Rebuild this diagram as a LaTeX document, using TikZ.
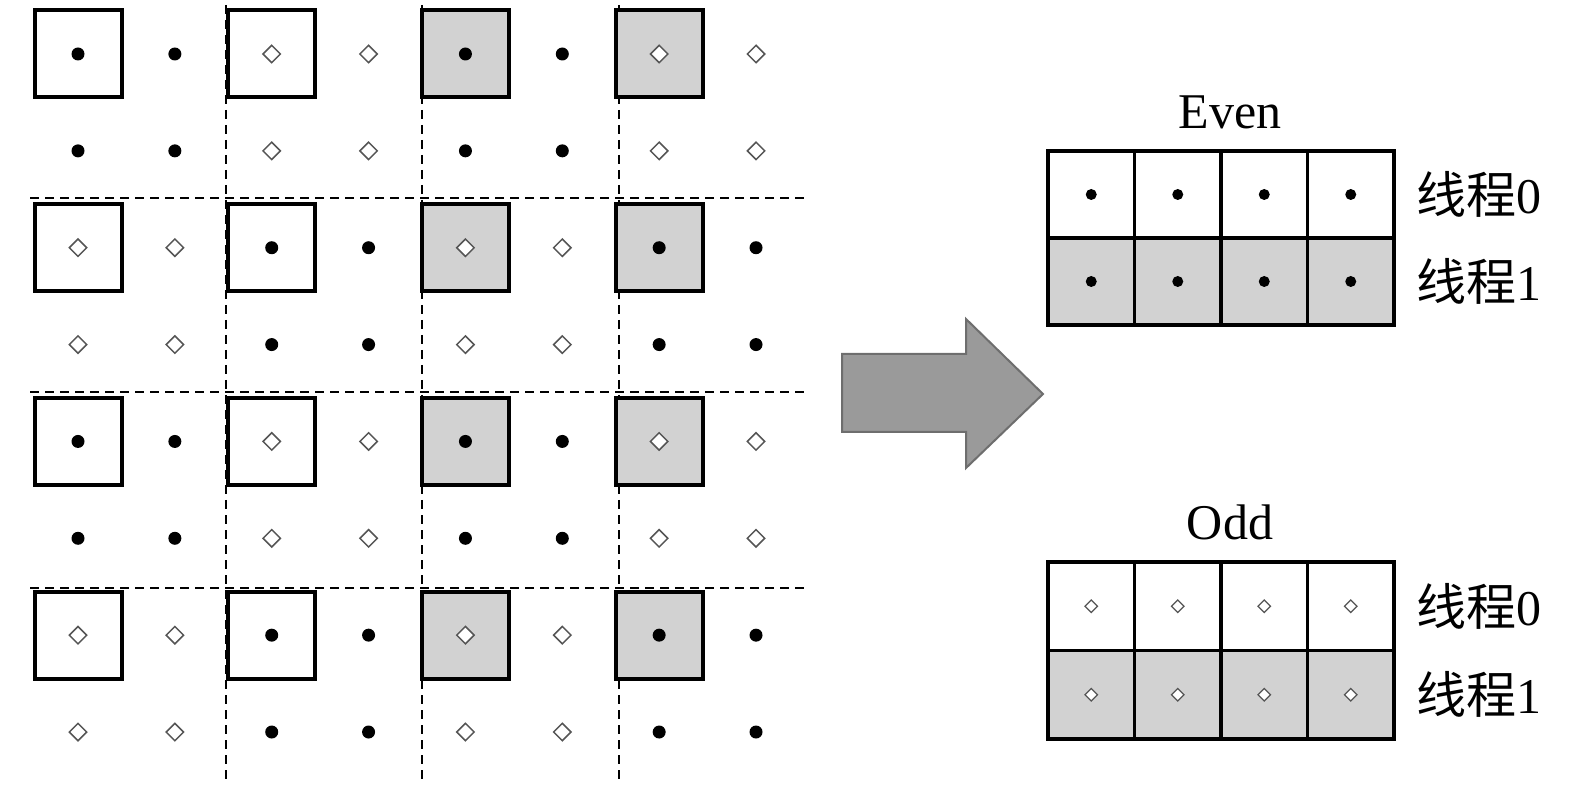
\documentclass[tikz,border=0pt]{standalone}
\usepackage{fontspec}
\setmainfont{Liberation Serif}
\newfontfamily\cjk{Noto Sans CJK SC}
\usepackage{tikz}
\usetikzlibrary{shapes.geometric,positioning}
\definecolor{cellgray}{HTML}{D2D2D2}
\definecolor{arrowfill}{HTML}{9A9A9A}
\definecolor{arrowedge}{HTML}{6E6E6E}
\definecolor{diagray}{HTML}{555555}

\begin{document}
\begin{tikzpicture}[x=1pt, y=-1pt,
  dotpt/.style={circle, fill=black, inner sep=0pt, minimum size=13pt},
  diapt/.style={diamond, draw=diagray, fill=white, line width=1.5pt, inner sep=0pt, minimum size=18pt},
  tdot/.style={circle, fill=black, inner sep=0pt, minimum size=11pt},
  tdia/.style={diamond, draw=diagray, fill=white, line width=1.3pt, inner sep=0pt, minimum size=13pt},
  blockbox/.style={draw, line width=4pt, minimum size=87pt, inner sep=0pt},
  tcell/.style={draw, line width=3.5pt, minimum width=86.5pt, minimum height=87pt, inner sep=0pt},
  gridline/.style={line width=1.5pt, dash pattern=on 9pt off 6pt},
  lbl/.style={inner sep=0pt, font=\fontsize{50}{60}\selectfont},
  title/.style={inner sep=0pt, anchor=base, font=\fontsize{50}{60}\selectfont}]

  \useasboundingbox (0,0) rectangle (1575,791);

  % Dashed block borders
  \foreach \x in {226,422,619} {
    \draw[gridline] (\x,5) -- (\x,784);
  }
  \foreach \y in {198,392,588} {
    \draw[gridline] (30,\y) -- (809,\y);
  }

  % Squares round the sampled points
  \foreach \i in {0,2} {
    \foreach \j in {0,2,4,6} {
      \node[blockbox, fill=white] (s\i\j) at (78+96.86*\i, 54+96.86*\j) {};
    }
  }
  \foreach \i in {4,6} {
    \foreach \j in {0,2,4,6} {
      \node[blockbox, fill=cellgray] (s\i\j) at (78+96.86*\i, 54+96.86*\j) {};
    }
  }

  % Points: dots and diamonds in 2x2 blocks
  \foreach \i in {0,...,7} {
    \foreach \j in {0,...,7} {
      \pgfmathtruncatemacro{\k}{mod(div(\i,2)+div(\j,2),2)}
      \ifnum\k=0
        \node[dotpt] (p\i\j) at (78+96.86*\i, 54+96.86*\j) {};
      \else
        \node[diapt] (p\i\j) at (78+96.86*\i, 54+96.86*\j) {};
      \fi
    }
  }

  % Big arrow
  \filldraw[fill=arrowfill, draw=arrowedge, line width=2pt]
    (842,354) -- (966,354) -- (966,319) -- (1043,394) -- (966,468) -- (966,432) -- (842,432) -- cycle;

  % Even table
  \node[title] (even) at (1230,129) {Even};
  \foreach \c in {1,...,4} {
    \node[tcell, fill=white] (ea\c) at (1004.75+86.5*\c, 194.5) {};
    \node[tcell, fill=cellgray] (eb\c) at (1004.75+86.5*\c, 281.5) {};
    \node[tdot] (ea\c-pt) at (ea\c) {};
    \node[tdot] (eb\c-pt) at (eb\c) {};
  }
  \node[lbl, right=21pt of ea4] (ea-lbl) {{\cjk 线程}0};
  \node[lbl, right=21pt of eb4] (eb-lbl) {{\cjk 线程}1};

  % Odd table
  \node[title] (odd) at (1230,539) {Odd};
  \foreach \c in {1,...,4} {
    \node[tcell, fill=white, minimum height=88.5pt] (oa\c) at (1004.75+86.5*\c, 606.25) {};
    \node[tcell, fill=cellgray, minimum height=88.5pt] (ob\c) at (1004.75+86.5*\c, 694.75) {};
    \node[tdia] (oa\c-pt) at (oa\c) {};
    \node[tdia] (ob\c-pt) at (ob\c) {};
  }
  \node[lbl, right=21pt of oa4] (oa-lbl) {{\cjk 线程}0};
  \node[lbl, right=21pt of ob4] (ob-lbl) {{\cjk 线程}1};

\end{tikzpicture}
\end{document}
